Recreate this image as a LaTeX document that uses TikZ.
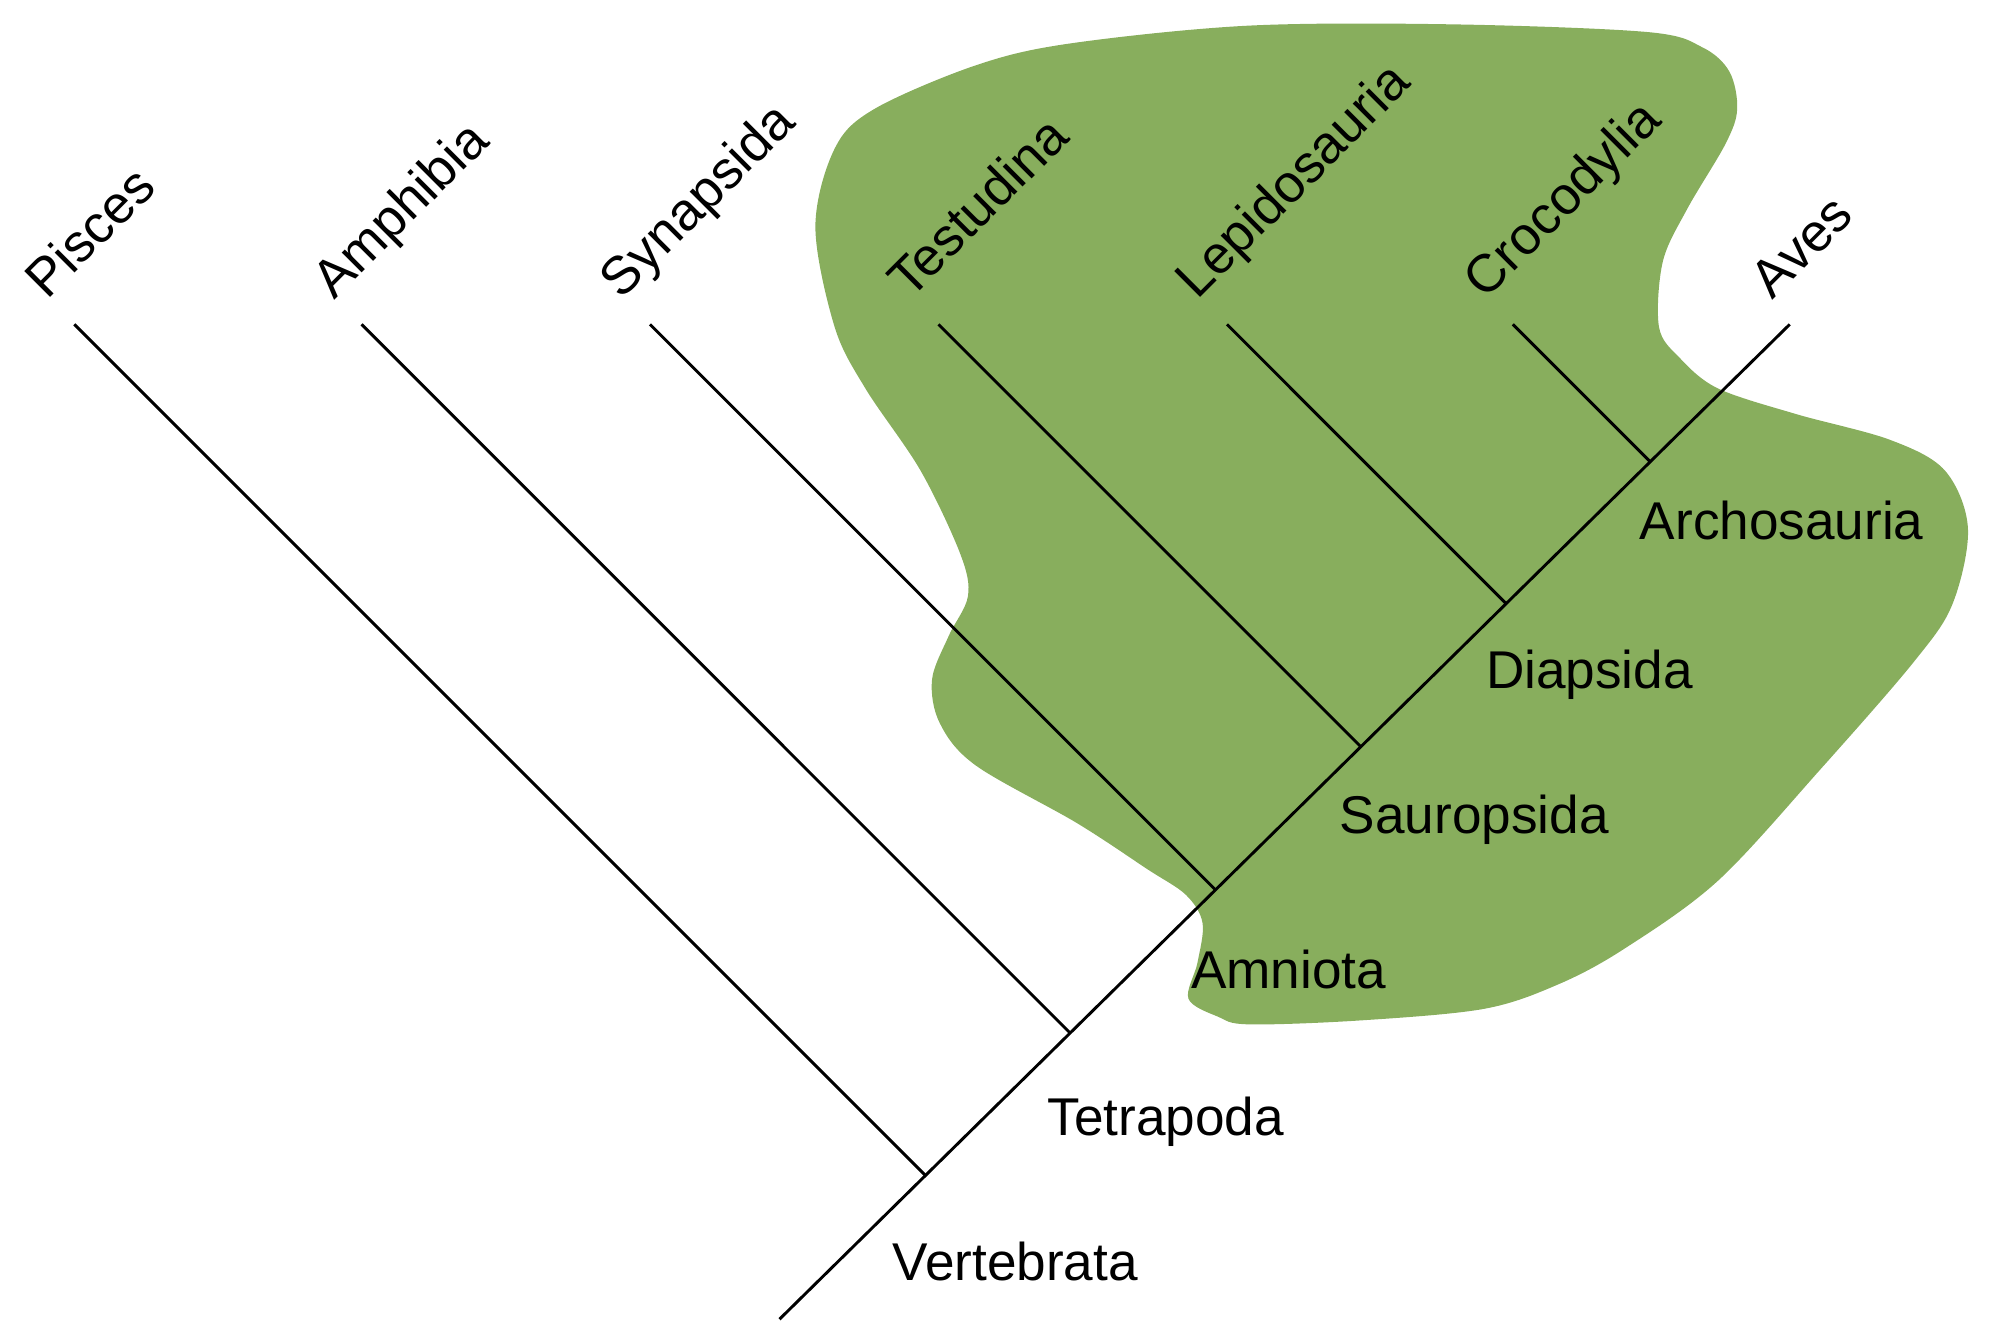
\documentclass[tikz,border=0pt]{standalone}
\usepackage{fontspec}
\setmainfont{Liberation Sans}
\usetikzlibrary{calc}
\definecolor{cladegreen}{HTML}{88AE5D}
\begin{document}
\begin{tikzpicture}[x=0.02cm, y=-0.02cm, line width=1.3pt]
	% 定义样式
	\tikzstyle{taxon} = [rotate=45, anchor=base west, inner sep=0pt, font=\fontsize{23.6}{28}\selectfont]
	\tikzstyle{clade} = [anchor=base west, inner sep=0pt, font=\fontsize{23.6}{28}\selectfont]
	
	\useasboundingbox (0,0) rectangle (1560,1045.2);
	
	% 绿色区域
	\fill[cladegreen] plot[smooth cycle, tension=0.55] coordinates {
		(636,177) (651,255) (675,303) (718,367) (749,432) (755,465) (740,496)
		(727,530) (733,564) (761,597) (840,642) (895,678) (925,698) (938,720)
		(934,751) (927,779) (950,793) (974,799) (1060,796) (1157,787) (1215,768)
		(1267,740) (1340,687) (1420,600) (1493,516) (1523,471) (1535,412)
		(1517,367) (1474,343) (1401,323) (1340,303) (1310,279) (1294,255)
		(1297,204) (1316,163) (1346,112) (1355,85) (1349,56) (1328,37)
		(1285,25) (1133,19) (974,20) (834,34) (761,51) (682,85) (651,116)};
	
	% 主干
	\coordinate (root) at (608,1029);
	\coordinate (aves) at (1396,253);
	\draw (root) -- (aves);
	
	% 分支
	\foreach \name/\tx/\lx [count=\i] in {Pisces/58/36, Amphibia/282/260, Synapsida/507/484, Testudina/732/709, Lepidosauria/957/933, Crocodylia/1180/1158}{
		\coordinate (t\i) at (\tx,253);
		\pgfmathsetmacro{\s}{(\tx+168)/1564}
		\coordinate (j\i) at ($(root)!\s!(aves)$);
		\draw (t\i) -- (j\i);
		\node[taxon] (n\i) at (\lx,235) {\name};
	}
	\node[taxon] (naves) at (1382,235) {Aves};
	
	% 分类群名称
	\foreach \name/\lx/\ly in {Vertebrata/695/999, Tetrapoda/816/886, Amniota/928/771, Sauropsida/1044/650, Diapsida/1158/537, Archosauria/1278/421}
		\node[clade] (c-\name) at (\lx,\ly) {\name};
\end{tikzpicture}
\end{document}
